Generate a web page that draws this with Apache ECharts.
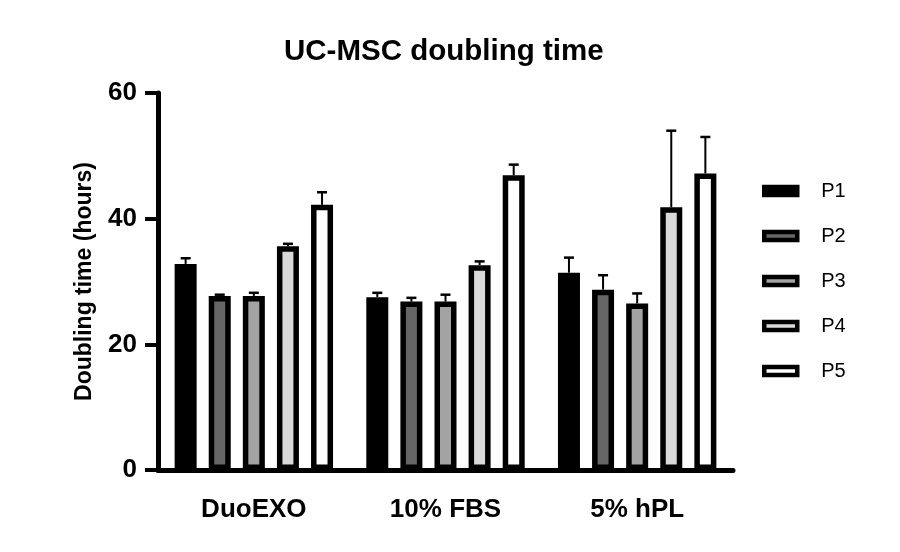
<!DOCTYPE html>
<html>
<head>
<meta charset="utf-8">
<script src="https://cdn.jsdelivr.net/npm/echarts@6/dist/echarts.min.js"></script>
<style>html,body{margin:0;padding:0;background:#fff}#c{width:900px;height:552px}</style>
</head>
<body>
<div id="c"></div>
<script>
var categories = ['DuoEXO', '10% FBS', '5% hPL'];
var passages = ['P1', 'P2', 'P3', 'P4', 'P5'];
var meanP1 = [32.8, 27.5, 31.4];
var meanP2 = [27.7, 26.8, 28.7];
var meanP3 = [27.7, 26.8, 26.5];
var meanP4 = [35.6, 32.6, 41.8];
var meanP5 = [42.2, 46.9, 47.2];
var sdP1 = [0.9, 0.7, 2.4];
var sdP2 = [0.2, 0.6, 2.3];
var sdP3 = [0.5, 1.1, 1.6];
var sdP4 = [0.4, 0.6, 12.2];
var sdP5 = [2.0, 1.7, 5.8];
var yTicks = [0, 20, 40, 60];

var means = [meanP1, meanP2, meanP3, meanP4, meanP5];
var sds = [sdP1, sdP2, sdP3, sdP4, sdP5];
var fills = ['#000000', '#666666', '#a3a3a3', '#d9d9d9', '#ffffff'];
var FONT = 'Liberation Sans, Arial, Helvetica, sans-serif';
var BAR_W = 22, BAR_GAP = 0.55, BORDER = 5.5;
var pitch = BAR_W * (1 + BAR_GAP);

var series = [];
passages.forEach(function (p, i) {
  series.push({
    name: p, type: 'bar', data: means[i], barWidth: BAR_W, barGap: Math.round(BAR_GAP * 100) + '%',
    itemStyle: { color: fills[i], borderColor: '#000', borderWidth: BORDER },
    z: 2
  });
});
passages.forEach(function (p, i) {
  series.push({
    name: p + ' err', type: 'custom',
    data: categories.map(function (c, k) { return [k, means[i][k], means[i][k] + sds[i][k]]; }),
    renderItem: function (params, api) {
      var base = api.coord([api.value(0), api.value(1)]);
      var top = api.coord([api.value(0), api.value(2)]);
      var x = base[0] + (i - 2) * pitch;
      var half = 5;
      return {
        type: 'group',
        children: [
          { type: 'line', shape: { x1: x, y1: base[1], x2: x, y2: top[1] }, style: { stroke: '#000', lineWidth: 2 } },
          { type: 'line', shape: { x1: x - half, y1: top[1], x2: x + half, y2: top[1] }, style: { stroke: '#000', lineWidth: 2.5 } }
        ]
      };
    },
    encode: { x: 0, y: [1, 2] },
    z: 1,
    silent: true
  });
});

var chart = echarts.init(document.getElementById('c'));
chart.setOption({
  animation: false,
  backgroundColor: '#fff',
  title: {
    text: 'UC-MSC doubling time', left: 279, top: 32,
    textStyle: { fontFamily: FONT, fontSize: 29.5, fontWeight: 'bold', color: '#000' }
  },
  legend: {
    orient: 'vertical', left: 757, top: 176, itemWidth: 33, itemHeight: 8, itemGap: 25,
    icon: 'rect',
    data: passages,
    itemStyle: { borderWidth: 4.5, borderColor: '#000' },
    textStyle: { fontFamily: FONT, fontSize: 20, color: '#000', padding: [0, 0, 0, 19] }
  },
  grid: { left: 158, right: 167, top: 93, bottom: 82 },
  xAxis: {
    type: 'category', data: categories,
    axisLine: { lineStyle: { color: '#000', width: 5 } },
    axisTick: { alignWithLabel: true, length: 14, lineStyle: { color: '#000', width: 4 } },
    axisLabel: { margin: 27, fontFamily: FONT, fontSize: 26, fontWeight: 'bold', color: '#000' }
  },
  yAxis: {
    type: 'value', min: yTicks[0], max: yTicks[yTicks.length - 1], interval: yTicks[1] - yTicks[0],
    name: 'Doubling time (hours)', nameLocation: 'middle', nameGap: 62,
    nameTextStyle: { fontFamily: FONT, fontSize: 23, fontWeight: 'bold', color: '#000' },
    axisLine: { show: true, lineStyle: { color: '#000', width: 5 } },
    axisTick: { show: true, length: 13, lineStyle: { color: '#000', width: 4 } },
    axisLabel: { margin: 21, fontFamily: FONT, fontSize: 26, fontWeight: 'bold', color: '#000' },
    splitLine: { show: false }
  },
  series: series
});
</script>
</body>
</html>
